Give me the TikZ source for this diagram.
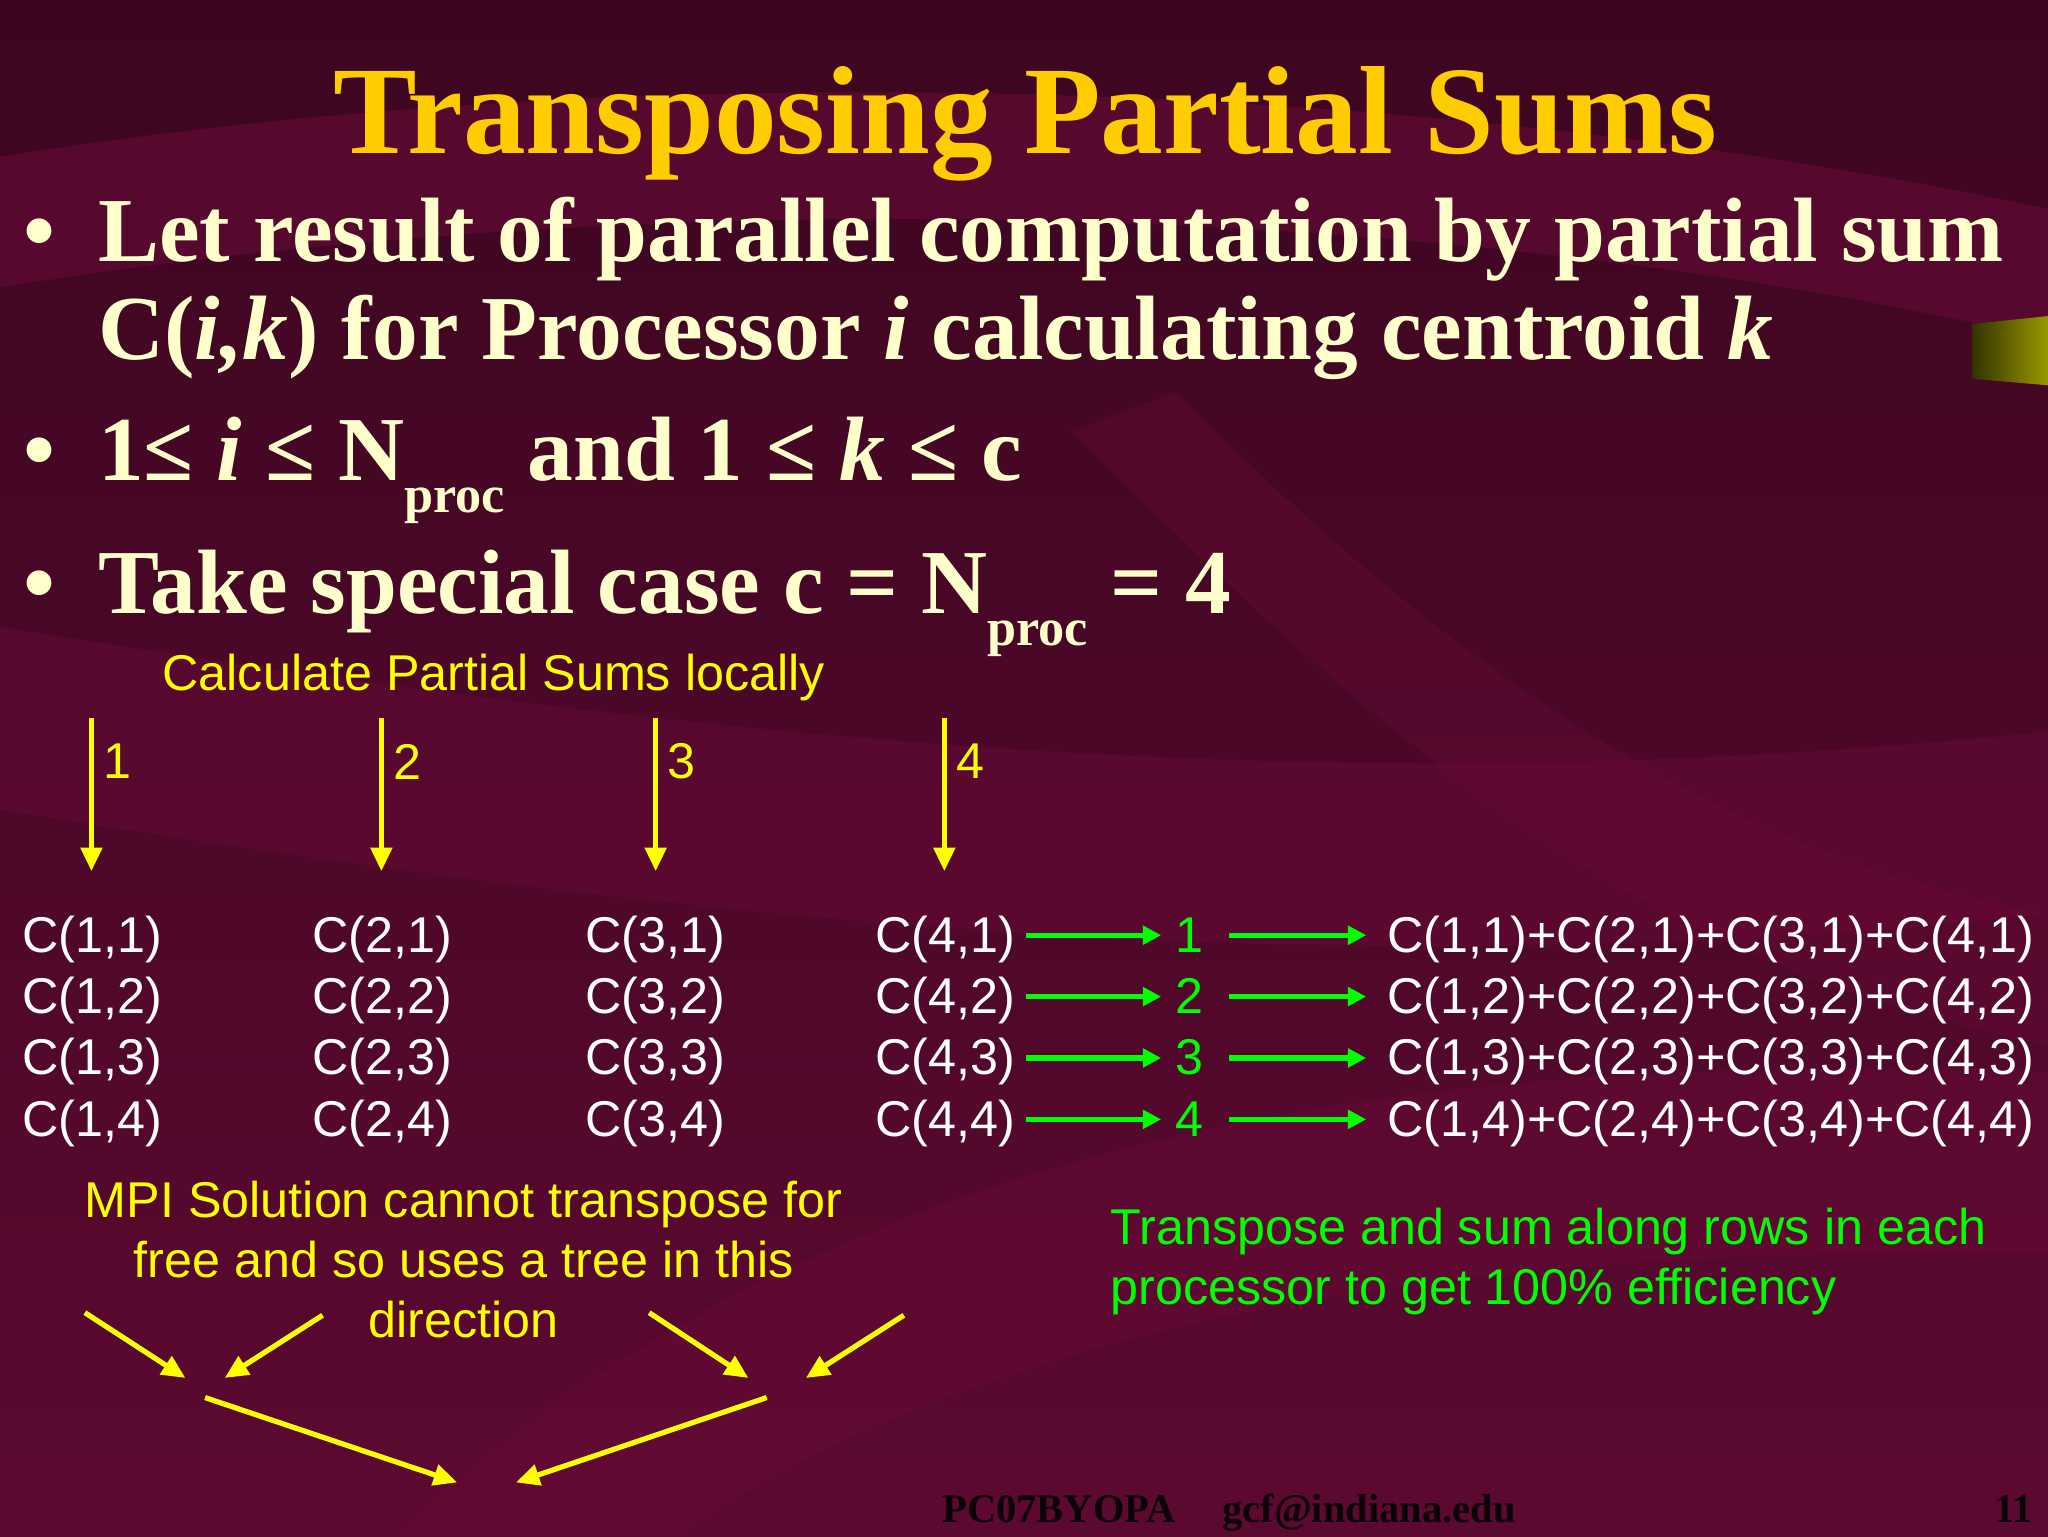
\documentclass[tikz,border=0pt]{standalone}
\usepackage{fontspec}
\setmainfont{Liberation Serif}
\newfontfamily\arialf{Liberation Sans}
\usetikzlibrary{arrows.meta}
\definecolor{bgd}{HTML}{3C0620}
\definecolor{bgl}{HTML}{6A0A38}
\definecolor{ttl}{HTML}{FFCC00}
\definecolor{crm}{HTML}{FFFFCC}
\definecolor{ylw}{HTML}{FFFF00}
\definecolor{grn}{HTML}{00FF00}
\tikzset{
 ttlf/.style={font=\fontsize{96}{100}\selectfont\bfseries, text=ttl},
 bul/.style={font=\fontsize{70}{72}\selectfont\bfseries, text=crm, anchor=base west, inner sep=0},
 sm/.style={font=\arialf\fontsize{38.5}{46}\selectfont, inner sep=0},
 cell/.style={sm, text=white, anchor=base west},
 yarr/.style={draw=ylw, line width=4pt, -{Triangle[length=18pt,width=16pt]}},
 garr/.style={draw=grn, line width=4pt, -{Triangle[length=14pt,width=14pt]}},
 ftf/.style={font=\fontsize{31}{32}\selectfont\bfseries, text=black!85!bgd},
}
\begin{document}
\begin{tikzpicture}[x=1pt,y=-1pt]
\useasboundingbox (0,0) rectangle (1568,1176);
\shade[top color=bgd, bottom color=bgl!70!bgd] (0,0) rectangle (1568,1176);
\fill[bgl, opacity=0.55] (0,120) .. controls (500,40) and (1100,60) .. (1568,160) -- (1568,260) .. controls (1100,150) and (500,140) .. (0,220) -- cycle;
\fill[bgl, opacity=0.45] (0,480) .. controls (500,560) and (1000,620) .. (1568,560) -- (1568,700) .. controls (1000,760) and (500,700) .. (0,620) -- cycle;
\fill[bgl, opacity=0.4] (300,1176) .. controls (600,900) and (1000,800) .. (1568,820) -- (1568,960) .. controls (1000,950) and (700,1050) .. (520,1176) -- cycle;
\fill[bgl, opacity=0.35] (900,300) .. controls (1100,500) and (1300,650) .. (1568,700) -- (1568,800) .. controls (1250,740) and (1050,560) .. (820,330) -- cycle;
\shade[left color=black!60!olive, right color=olive!80!yellow] (1510,248) -- (1568,242) -- (1568,295) -- (1510,290) -- cycle;

\node[ttlf] (title) at (785,95) {Transposing Partial Sums};
\node[bul] (b1) at (18,200) {•};
\node[bul] (l1) at (75,200) {Let result of parallel computation by partial sum};
\node[bul] (l2) at (75,275) {C(\textit{i,k}) for Processor \textit{i} calculating centroid \textit{k}};
\node[bul] (b2) at (18,368) {•};
\node[bul] (l3) at (75,368) {1≤ \textit{i} ≤ N\raisebox{-0.35em}{\fontsize{40}{40}\selectfont proc} and 1 ≤ \textit{k} ≤ c};
\node[bul] (b3) at (18,470) {•};
\node[bul] (l4) at (75,470) {Take special case c = N\raisebox{-0.35em}{\fontsize{40}{40}\selectfont proc} = 4};

\node[sm, text=ylw] (calc) at (378,519) {Calculate Partial Sums locally};
\foreach \i/\x in {1/70,2/292,3/502,4/723}{
  \coordinate (s\i) at (\x,550); \coordinate (e\i) at (\x,667);
  \draw[yarr] (s\i) -- (e\i);
  \node[sm, text=ylw, anchor=west] (n\i) at (\x+9,583) {\i};
}
\foreach \p/\x in {1/17,2/239,3/448,4/670}{
  \foreach \k/\y in {1/729,2/776,3/823,4/870}{
    \node[cell] (c\p\k) at (\x,\y) {C(\p,\k)};
  }
}
\foreach \k/\y in {1/729,2/776,3/823,4/870}{
  \node[sm, text=grn, anchor=base] (g\k) at (911,\y) {\k};
  \node[cell] (sum\k) at (1062,\y) {C(1,\k)+C(2,\k)+C(3,\k)+C(4,\k)};
  \draw[garr] ([xshift=8pt,yshift=13pt]c4\k.base east) -- ([xshift=-22pt,yshift=13pt]g\k.base);
  \draw[garr] ([xshift=30pt,yshift=13pt]g\k.base) -- ([xshift=-16pt,yshift=13pt]sum\k.base west);
}
\node[sm, text=grn, anchor=north west, align=left] (gt) at (850,925) {Transpose and sum along rows in each\\processor to get 100\% efficiency};
\node[sm, text=ylw, anchor=north, align=center] (mpi) at (355,904) {MPI Solution cannot transpose for\\free and so uses a tree in this\\direction};
\coordinate (t1) at (65,1005); \coordinate (t1e) at (142,1055);
\coordinate (t2) at (247,1007); \coordinate (t2e) at (172,1055);
\coordinate (t3) at (497,1005); \coordinate (t3e) at (573,1055);
\coordinate (t4) at (692,1007); \coordinate (t4e) at (617,1055);
\coordinate (t5) at (157,1070); \coordinate (t5e) at (350,1135);
\coordinate (t6) at (587,1070); \coordinate (t6e) at (395,1135);
\foreach \a in {1,...,6}{\draw[yarr] (t\a) -- (t\a e);}
\node[ftf, anchor=base west] (foot) at (718,1166) {PC07BYOPA\hspace{36pt}gcf@indiana.edu};
\node[ftf, anchor=base east] (pg) at (1560,1166) {11};
\end{tikzpicture}
\end{document}
